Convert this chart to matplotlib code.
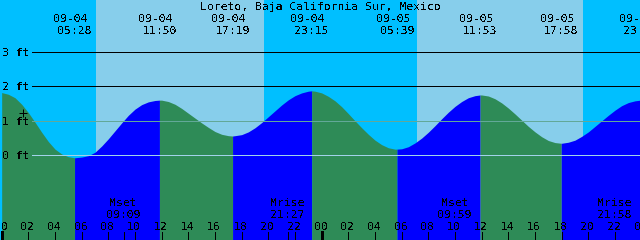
import matplotlib
matplotlib.use("Agg")
import matplotlib.pyplot as plt
import matplotlib.transforms as mtransforms
import numpy as np

plt.rcParams["text.antialiased"] = False

title = "Loreto, Baja California Sur, Mexico"

# tide height (ft) every half hour from 09-04 00:00
hours = [i * 0.5 for i in range(97)]
heights = [1.81, 1.76, 1.66, 1.47, 1.23, 0.95, 0.66, 0.39, 0.17, 0.03,
           -0.05, -0.08, -0.06, -0.02, 0.08, 0.26, 0.47, 0.70, 0.93, 1.15,
           1.33, 1.46, 1.54, 1.58, 1.59, 1.55, 1.47, 1.35, 1.21, 1.07,
           0.93, 0.80, 0.68, 0.60, 0.56, 0.56, 0.59, 0.67, 0.79, 0.94,
           1.11, 1.28, 1.45, 1.60, 1.72, 1.80, 1.85, 1.85, 1.80, 1.70,
           1.57, 1.40, 1.20, 0.99, 0.79, 0.60, 0.43, 0.30, 0.21, 0.17,
           0.18, 0.24, 0.35, 0.49, 0.66, 0.85, 1.05, 1.24, 1.41, 1.55,
           1.66, 1.72, 1.74, 1.71, 1.63, 1.51, 1.36, 1.19, 1.01, 0.83,
           0.67, 0.53, 0.42, 0.36, 0.34, 0.37, 0.43, 0.54, 0.67, 0.83,
           0.99, 1.15, 1.30, 1.43, 1.52, 1.57, 1.58]

# high / low tides (hours since 09-04 00:00)
event_hours = [5.467, 11.833, 17.317, 23.25, 29.65, 35.883, 41.967, 47.9]
event_heights = [-0.08, 1.59, 0.55, 1.86, 0.17, 1.74, 0.34, 1.59]
event_kind = ["low", "high", "low", "high", "low", "high", "low", "high"]
event_dates = ["09-04", "09-04", "09-04", "09-04", "09-05", "09-05", "09-05", "09-05"]
event_times = ["05:28", "11:50", "17:19", "23:15", "05:39", "11:53", "17:58", "23:54"]

# sunrise -> sunset
daylight = [(7.10, 19.70), (31.13, 43.63)]

moon_hours = [9.15, 21.45, 33.983, 45.967]
moon_names = ["Mset", "Mrise", "Mset", "Mrise"]
moon_times = ["09:09", "21:27", "09:59", "21:58"]

depth_levels = [3, 2, 1, 0]
depth_labels = ["3 ft", "2 ft", "1 ft", "0 ft"]
depth_colors = ["black", "black", "#62a898", "#a2d2ea"]

tick_hours = list(range(0, 49, 2))
tick_labels = ["%02d" % (hr % 24) for hr in tick_hours]

mark_hour, mark_height = 1.63, 1.22

NIGHT = "#00bfff"
DAY = "#87ceeb"
FLOOD = "#0000ff"
EBB = "#2e8b57"

W, H = 640, 240
YLO, YHI = -2.464, 4.493

fig = plt.figure(figsize=(6.4, 2.4), dpi=100)
ax = fig.add_axes([0, 0, 1, 1])
ax.set_xlim(-0.125, 47.875)
ax.set_ylim(YLO, YHI)
ax.axis("off")
fig.patch.set_facecolor(NIGHT)

for a, b in daylight:
    ax.axvspan(a, b, color=DAY, lw=0, antialiased=False)

t = np.array(hours + event_hours, dtype=float)
h = np.array(heights + event_heights, dtype=float)
order = np.argsort(t)
t, h = t[order], h[order]

# flood (rising) water is blue, ebb (falling) water is green
bounds = [t[0]] + event_hours + [t[-1]]
for i in range(len(bounds) - 1):
    if i < len(event_kind):
        rising = event_kind[i] == "high"
    else:
        rising = event_kind[-1] == "low"
    m = (t >= bounds[i]) & (t <= bounds[i + 1])
    ax.fill_between(t[m], YLO, h[m], color=FLOOD if rising else EBB,
                    lw=0, antialiased=False)

font = dict(family="DejaVu Sans Mono", fontsize=8.25, color="black")
px = 0.72  # one pixel in points


def yfrac(ypix):
    return 1 - ypix / H


blend = mtransforms.blended_transform_factory(ax.transData, ax.transAxes)
date_tr = mtransforms.offset_copy(blend, fig=fig, x=-4, y=0, units="dots")
tick_tr = mtransforms.offset_copy(blend, fig=fig, x=-1, y=0, units="dots")

# depth lines and labels
for lvl, lab, col in zip(depth_levels, depth_labels, depth_colors):
    ax.axhline(lvl, xmin=32 / W, xmax=1, color=col, lw=px, antialiased=False)
    ypix = (YHI - lvl) / (YHI - YLO) * H
    ax.text(2 / W, yfrac(ypix + 4), lab, transform=ax.transAxes,
            ha="left", va="baseline", **font)

ax.plot([mark_hour], [mark_height], marker="+", color="black", ms=6, mew=px)

# title and tide events
ax.text(0.5, yfrac(10), title, transform=ax.transAxes, ha="center",
        va="baseline", **font)
for eh, d, tm in zip(event_hours, event_dates, event_times):
    ax.text(eh, yfrac(22), d, transform=date_tr, ha="center", va="baseline", **font)
    ax.text(eh, yfrac(34), tm, transform=blend, ha="center", va="baseline", **font)

# moon events
for mh, nm, tm in zip(moon_hours, moon_names, moon_times):
    ax.text(mh, yfrac(206), nm, transform=blend, ha="center", va="baseline", **font)
    ax.text(mh, yfrac(218), tm, transform=blend, ha="center", va="baseline", **font)
    ax.axvline(mh, ymin=0, ymax=8 / H, color="black", lw=px, antialiased=False)

# hour ticks, thick at midnight
for th, tl in zip(tick_hours, tick_labels):
    ax.text(th, yfrac(230), tl, transform=tick_tr, ha="center", va="baseline", **font)
    lw = 3 * px if th % 24 == 0 else px
    ax.axvline(th, ymin=0, ymax=8 / H, color="black", lw=lw, antialiased=False)

fig.savefig("out.png", dpi=100, facecolor=fig.get_facecolor())
